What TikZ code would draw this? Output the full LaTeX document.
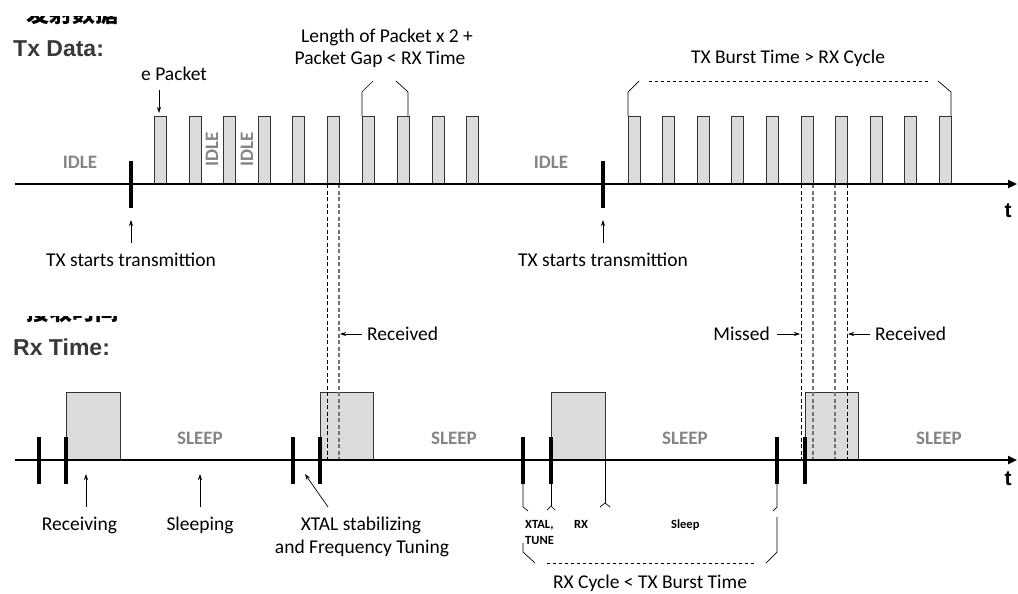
\documentclass[tikz,border=0pt]{standalone}
\usepackage{fontspec}
\setmainfont{Carlito}
\newfontfamily\arialf{Liberation Sans}
\newfontfamily\cjk{Noto Sans CJK SC}
\usetikzlibrary{arrows.meta}
\begin{document}
\begin{tikzpicture}[x=1pt,y=-1pt,
  axisln/.style={line width=2.6pt,-{Triangle[length=9pt,width=8pt]}},
  tmark/.style={line width=3.2pt},
  pkt/.style={draw=black!80,fill=black!14,line width=0.8pt},
  txt/.style={font=\fontsize{19.5}{22}\selectfont,inner sep=0pt},
  state/.style={font=\bfseries\fontsize{19}{22}\selectfont,text=black!48,inner sep=0pt},
  small/.style={font=\bfseries\fontsize{12.5}{16}\selectfont,inner sep=0pt},
  head/.style={font=\arialf\bfseries\fontsize{23}{26}\selectfont,text=black!78,inner sep=0pt},
  tlab/.style={font=\arialf\bfseries\fontsize{21}{24}\selectfont,inner sep=0pt},
  cjkt/.style={font=\cjk\bfseries\fontsize{23}{23}\selectfont,inner sep=0pt},
  thinln/.style={line width=0.7pt},
  arr/.style={line width=0.7pt,-{Stealth[length=6pt,width=4pt]}},
  dblk/.style={line width=0.8pt,dash pattern=on 4pt off 2.5pt},
  dgry/.style={line width=1.1pt,draw=black!55,dash pattern=on 4pt off 2.5pt},
]
\useasboundingbox (0,0) rectangle (1018,594);

% ---------- partially hidden headings ----------
\begin{scope}
  \clip (0,17) rectangle (200,40);
  \node[cjkt,anchor=west] (cn1) at (26,14) {发射数据};
\end{scope}
\begin{scope}
  \clip (0,316) rectangle (200,330);
  \node[cjkt,anchor=west] (cn2) at (26,312) {接收时间};
\end{scope}
\node[head,anchor=base west] (txd) at (13,57) {Tx Data:};
\node[head,anchor=base west] (rxt) at (13,355) {Rx Time:};

% ---------- dashed guide lines ----------
\draw[dblk] (327,184) -- (327,460);
\draw[dgry] (339,184) -- (339,460);
\draw[dblk] (801,184) -- (801,460);
\draw[dgry] (813,184) -- (813,460);
\draw[dgry] (835,184) -- (835,460);
\draw[dblk] (847,184) -- (847,460);

% ---------- TX packets ----------
\foreach \x in {154,189,223,258,292,327,362,397,432,466,628,662,697,731,766,801,835,870,904,939}
  \draw[pkt] (\x,184) rectangle (\x+12,116);

% ---------- RX boxes ----------
\foreach \x/\w in {66/54,320/53,551/54,805/53}
  \draw[pkt,fill=black!14] (\x,460) rectangle (\x+\w,392);
% guide lines visible over the boxes
\draw[dblk] (327,392) -- (327,460);
\draw[dgry] (339,392) -- (339,460);
\draw[dgry] (813,392) -- (813,460);
\draw[dgry] (835,392) -- (835,460);
\draw[dblk] (847,392) -- (847,460);

% ---------- axes ----------
\draw[axisln] (15,184) -- (1017,184);
\draw[axisln] (15,460) -- (1017,460);
\node[tlab,anchor=base] (t1) at (1008,217) {t};
\node[tlab,anchor=base] (t2) at (1008,485) {t};

% ---------- TX ticks and start labels ----------
\draw[tmark] (131,161) -- (131,208);
\draw[tmark] (603,161) -- (603,208);
\node[txt,anchor=base] (txs1) at (131,266) {TX starts transmittion};
\node[txt,anchor=base] (txs2) at (603,266) {TX starts transmittion};
\coordinate (a1s) at (131,243); \coordinate (a1e) at (131,220);
\coordinate (a2s) at (603,243); \coordinate (a2e) at (603,220);
\draw[arr] (a1s) -- (a1e);
\draw[arr] (a2s) -- (a2e);

% ---------- TX labels ----------
\node[state,anchor=base] (idle1) at (80,168) {IDLE};
\node[state,anchor=base] (idle4) at (551,168) {IDLE};
\node[state,rotate=90] (idle2) at (212,149) {IDLE};
\node[state,rotate=90] (idle3) at (247,149) {IDLE};

\node[txt,anchor=base west] (onep) at (141,81) {e Packet};
\coordinate (p1s) at (159,90); \coordinate (p1e) at (159,113);
\draw[arr] (p1s) -- (p1e);

\node[txt,anchor=base] (len1) at (387,43) {Length of Packet x 2 +};
\node[txt,anchor=base] (len2) at (380,65) {Packet Gap < RX Time};
\draw[thinln] (362,116) -- (362,92) -- (373,81);
\draw[thinln] (396,81) -- (408,92) -- (408,116);

\node[txt,anchor=base] (burst) at (788,64) {TX Burst Time > RX Cycle};
\draw[thinln] (628,116) -- (628,92) -- (639,81);
\draw[thinln,dashed] (649,81) -- (928,81);
\draw[thinln] (938,81) -- (951,92) -- (951,116);

% ---------- received / missed ----------
\node[txt,anchor=base west] (rec1) at (367,340) {Received};
\coordinate (r1s) at (362,334); \coordinate (r1e) at (340,334);
\draw[arr] (r1s) -- (r1e);
\node[txt,anchor=base east] (miss) at (770,340) {Missed};
\coordinate (m1s) at (777,334); \coordinate (m1e) at (800,334);
\draw[arr] (m1s) -- (m1e);
\node[txt,anchor=base west] (rec2) at (875,340) {Received};
\coordinate (r2s) at (870,334); \coordinate (r2e) at (848,334);
\draw[arr] (r2s) -- (r2e);

% ---------- RX ticks ----------
\foreach \x in {39,66,293,320,523,551,777,805}
  \draw[tmark] (\x,437) -- (\x,484);

\node[state,anchor=base] (sl1) at (200,444) {SLEEP};
\node[state,anchor=base] (sl2) at (454,444) {SLEEP};
\node[state,anchor=base] (sl3) at (685,444) {SLEEP};
\node[state,anchor=base] (sl4) at (939,444) {SLEEP};

% ---------- RX annotations ----------
\node[txt,anchor=base] (recv) at (79.5,530) {Receiving};
\node[txt,anchor=base] (slpg) at (200,530) {Sleeping};
\node[txt,anchor=base] (xt1) at (361,530) {XTAL stabilizing};
\node[txt,anchor=base] (xt2) at (362,553) {and Frequency Tuning};
\coordinate (b1s) at (86,507); \coordinate (b1e) at (86,474);
\coordinate (b2s) at (200,507); \coordinate (b2e) at (200,474);
\coordinate (b3s) at (328,507); \coordinate (b3e) at (305,474);
\draw[arr] (b1s) -- (b1e);
\draw[arr] (b2s) -- (b2e);
\draw[arr] (b3s) -- (b3e);

% ---------- RX cycle bracket ----------
\draw[thinln] (523,484) -- (523,507) -- (528,511);
\draw[thinln] (551,484) -- (551,506);
\draw[thinln] (547,510) -- (551,506) -- (555,510);
\draw[thinln] (605,460) -- (605,503);
\draw[thinln] (600,507) -- (605,503) -- (610,507);
\draw[thinln] (777,484) -- (777,507) -- (773,511);

\node[small,anchor=base west] (xtl) at (525,528) {XTAL,};
\node[small,anchor=base west] (tun) at (525,544) {TUNE};
\node[small,anchor=base west] (rxl) at (574,528) {RX};
\node[small,anchor=base west] (slp) at (671,528) {Sleep};

\draw[thinln] (523,543) -- (523,552) -- (535,563);
\draw[thinln,dashed] (547,563) -- (755,563);
\draw[thinln] (766,563) -- (777,552) -- (777,517);
\node[txt,anchor=base] (cyc) at (650,588) {RX Cycle < TX Burst Time};
\end{tikzpicture}
\end{document}
